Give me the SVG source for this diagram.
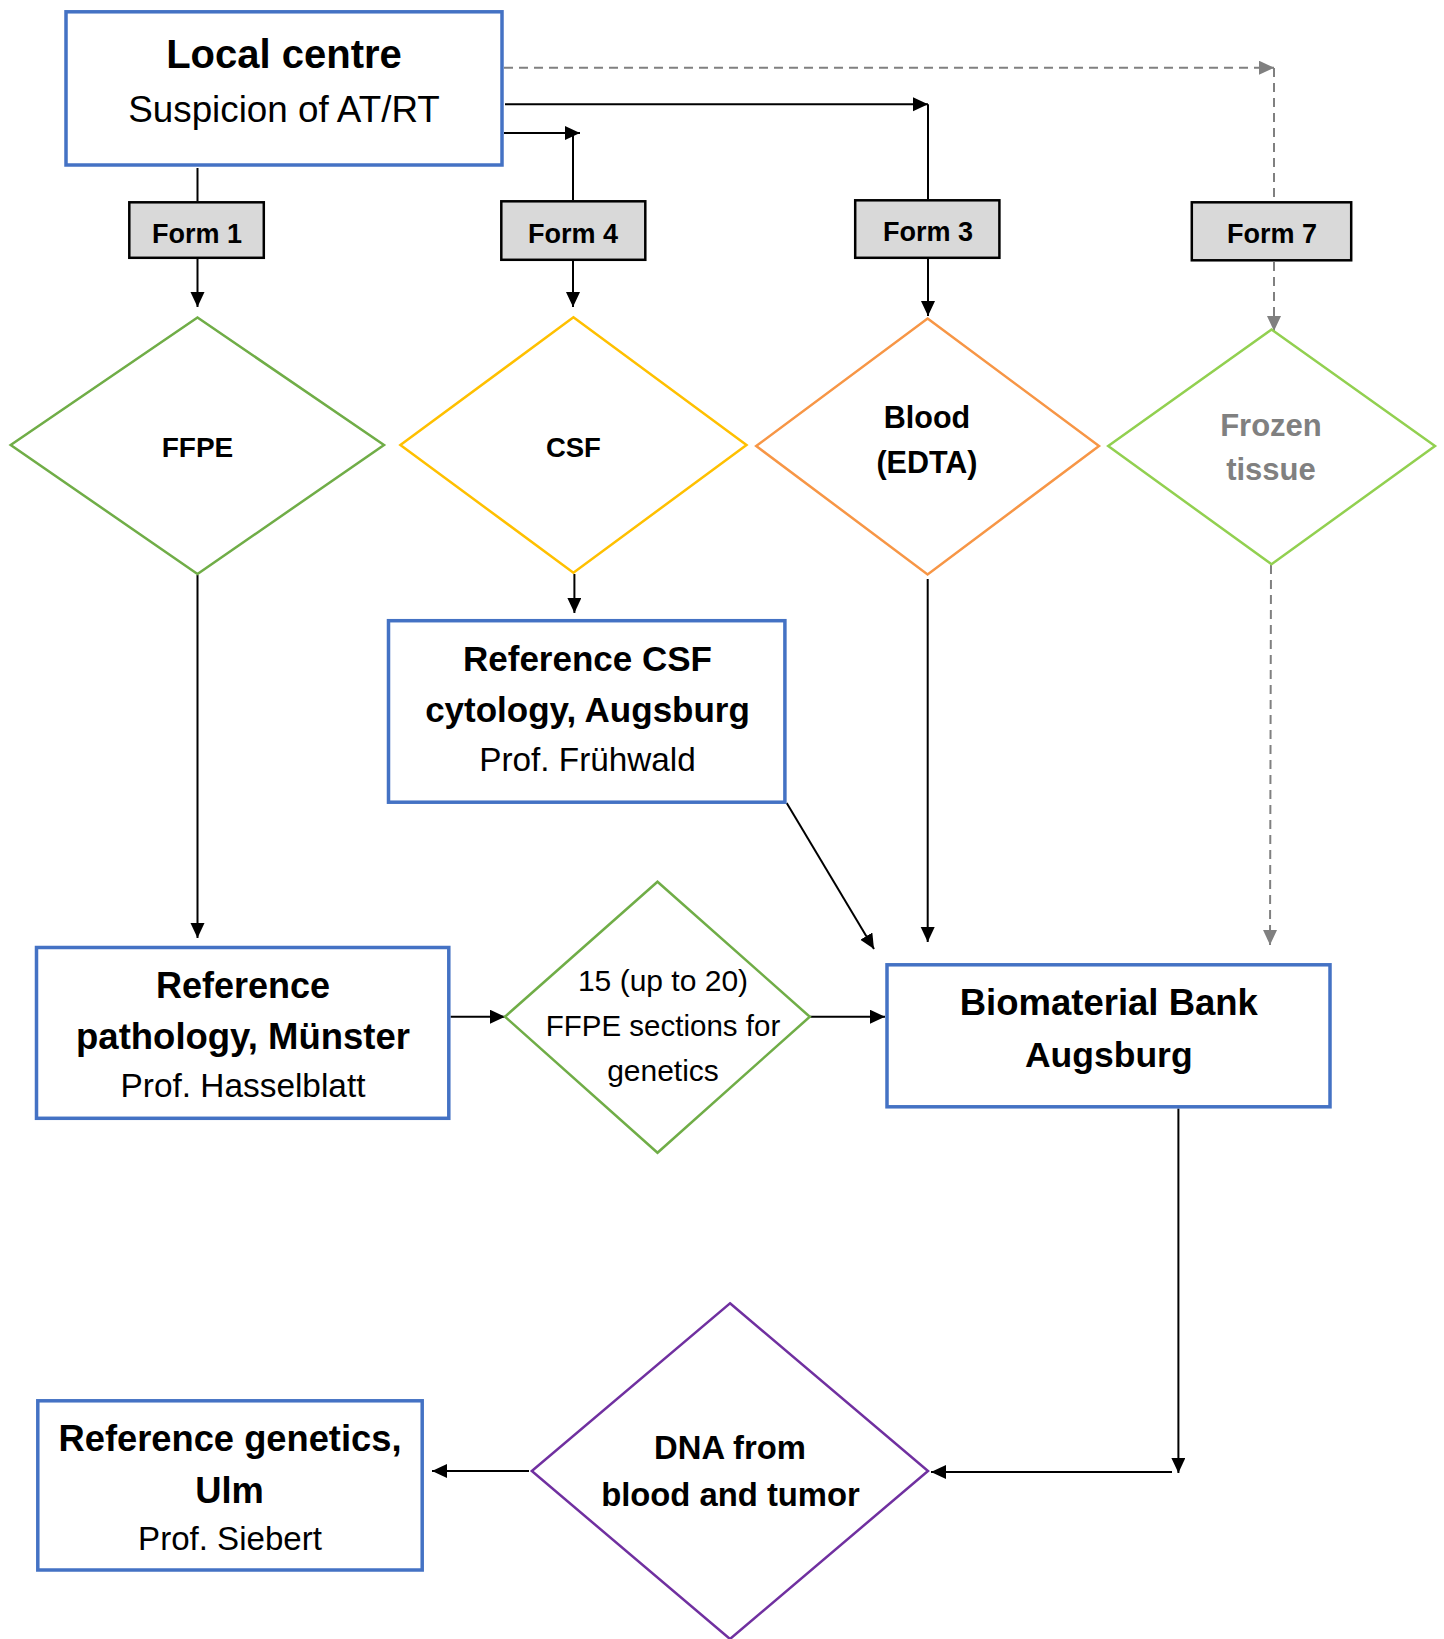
<svg xmlns="http://www.w3.org/2000/svg" width="1444" height="1639" viewBox="0 0 1444 1639">
<style>
  text { font-family: "Liberation Sans", Arial, sans-serif; fill: #000; text-anchor: middle; }
  .b { font-weight: bold; }
  .box { fill: #fff; stroke: #4472C4; stroke-width: 3.5; }
  .form { fill: #D9D9D9; stroke: #000; stroke-width: 2.5; }
  .dia { fill: #fff; stroke-width: 2.5; }
  .con { fill: none; stroke: #000; stroke-width: 2; }
  .dash { fill: none; stroke: #808080; stroke-width: 2; stroke-dasharray: 9 6; }
</style>
<defs>
  <marker id="ah" markerUnits="userSpaceOnUse" markerWidth="16" markerHeight="16" refX="15" refY="7" orient="auto">
    <path d="M0,0 L15,7 L0,14 z" fill="#000"/>
  </marker>
  <marker id="ahg" markerUnits="userSpaceOnUse" markerWidth="16" markerHeight="16" refX="15" refY="7" orient="auto">
    <path d="M0,0 L15,7 L0,14 z" fill="#808080"/>
  </marker>
</defs>
<rect width="1444" height="1639" fill="#fff"/>

<g id="connectors">
  <line class="dash" x1="504" y1="67.7" x2="1274" y2="67.7" marker-end="url(#ahg)"/>
  <line class="dash" x1="1274" y1="68" x2="1274" y2="201"/>
  <line class="con" x1="505" y1="104.3" x2="928" y2="104.3" marker-end="url(#ah)"/>
  <line class="con" x1="928" y1="104.3" x2="928" y2="199"/>
  <line class="con" x1="504" y1="133" x2="580" y2="133" marker-end="url(#ah)"/>
  <line class="con" x1="573" y1="133" x2="573" y2="200"/>
  <line class="con" x1="197.5" y1="168" x2="197.5" y2="201"/>
  <line class="con" x1="197.5" y1="259" x2="197.5" y2="307" marker-end="url(#ah)"/>
  <line class="con" x1="573" y1="261" x2="573" y2="307" marker-end="url(#ah)"/>
  <line class="con" x1="928" y1="259" x2="928" y2="316" marker-end="url(#ah)"/>
  <line class="dash" x1="1274" y1="262" x2="1274" y2="331" marker-end="url(#ahg)"/>
  <line class="con" x1="197.5" y1="575" x2="197.5" y2="938" marker-end="url(#ah)"/>
  <line class="con" x1="574.4" y1="574" x2="574.4" y2="613" marker-end="url(#ah)"/>
  <line class="con" x1="786.7" y1="803" x2="874" y2="949" marker-end="url(#ah)"/>
  <line class="con" x1="927.7" y1="579" x2="927.7" y2="942" marker-end="url(#ah)"/>
  <line class="dash" x1="1271" y1="565" x2="1270" y2="945" marker-end="url(#ahg)"/>
  <line class="con" x1="450.6" y1="1016.7" x2="505" y2="1016.7" marker-end="url(#ah)"/>
  <line class="con" x1="810" y1="1016.7" x2="885" y2="1016.7" marker-end="url(#ah)"/>
  <line class="con" x1="1178.4" y1="1108.6" x2="1178.4" y2="1473" marker-end="url(#ah)"/>
  <line class="con" x1="1172" y1="1472" x2="931" y2="1472" marker-end="url(#ah)"/>
  <line class="con" x1="529" y1="1471" x2="432" y2="1471" marker-end="url(#ah)"/>
</g>

<g id="local-centre">
  <rect class="box" x="66" y="11.8" width="436" height="153.2"/>
  <text class="b" x="284" y="68.3" font-size="40">Local centre</text>
  <text x="284" y="121.7" font-size="36.8">Suspicion of AT/RT</text>
</g>

<g id="form1">
  <rect class="form" x="129.3" y="202.3" width="134.5" height="55.5"/>
  <text class="b" x="197" y="242.7" font-size="27">Form 1</text>
</g>
<g id="form4">
  <rect class="form" x="501.3" y="201.3" width="144" height="58.5"/>
  <text class="b" x="573" y="242.7" font-size="27">Form 4</text>
</g>
<g id="form3">
  <rect class="form" x="855.2" y="200.3" width="144.2" height="57.5"/>
  <text class="b" x="928" y="240.7" font-size="27">Form 3</text>
</g>
<g id="form7">
  <rect class="form" x="1191.8" y="202.3" width="159.4" height="58"/>
  <text class="b" x="1272" y="242.7" font-size="27">Form 7</text>
</g>

<g id="ffpe">
  <polygon class="dia" stroke="#70AD47" points="197.5,317.5 384,445 197.5,574 10.7,445"/>
  <text class="b" x="197.5" y="456.7" font-size="28">FFPE</text>
</g>
<g id="csf">
  <polygon class="dia" stroke="#FFC000" points="573.4,317.3 746.5,445 573.4,572.7 400.4,445"/>
  <text class="b" x="573.4" y="456.7" font-size="27.5">CSF</text>
</g>
<g id="blood">
  <polygon class="dia" stroke="#F79646" points="927.6,318.5 1099,446 927.6,574.4 756.2,446"/>
  <text class="b" x="927" y="428.4" font-size="30.5">Blood</text>
  <text class="b" x="927" y="472.5" font-size="30.5">(EDTA)</text>
</g>
<g id="frozen">
  <polygon class="dia" stroke="#92D050" points="1271.5,329.5 1435,446 1271.5,564.3 1108.2,446"/>
  <text class="b" x="1271" y="435.5" font-size="31" style="fill:#808080">Frozen</text>
  <text class="b" x="1271" y="480" font-size="31" style="fill:#808080">tissue</text>
</g>

<g id="ref-csf">
  <rect class="box" x="388.5" y="620.7" width="396.4" height="181.5"/>
  <text class="b" x="587.5" y="671" font-size="35">Reference CSF</text>
  <text class="b" x="587.5" y="721.7" font-size="35">cytology, Augsburg</text>
  <text x="587.5" y="771" font-size="33.3">Prof. Frühwald</text>
</g>

<g id="ref-pathology">
  <rect class="box" x="36.5" y="947.5" width="412.3" height="170.8"/>
  <text class="b" x="243" y="997.7" font-size="36">Reference</text>
  <text class="b" x="243" y="1049" font-size="36.5">pathology, Münster</text>
  <text x="243" y="1097.3" font-size="33.4">Prof. Hasselblatt</text>
</g>

<g id="ffpe-sections">
  <polygon class="dia" stroke="#70AD47" points="657.5,881.7 809.8,1016.7 657.5,1152.7 505,1016.7"/>
  <text x="663" y="991" font-size="30">15 (up to 20)</text>
  <text x="663" y="1036" font-size="29.5">FFPE sections for</text>
  <text x="663" y="1080.7" font-size="30">genetics</text>
</g>

<g id="biomaterial-bank">
  <rect class="box" x="887" y="964.8" width="443" height="142"/>
  <text class="b" x="1108.8" y="1014.8" font-size="36.5">Biomaterial Bank</text>
  <text class="b" x="1108.8" y="1067.2" font-size="35.5">Augsburg</text>
</g>

<g id="dna">
  <polygon class="dia" stroke="#7030A0" points="730,1303.3 928,1471 730,1639 531.8,1471"/>
  <text class="b" x="730" y="1459" font-size="32.8">DNA from</text>
  <text class="b" x="730.5" y="1505.7" font-size="32.8">blood and tumor</text>
</g>

<g id="ref-genetics">
  <rect class="box" x="37.8" y="1400.8" width="384.4" height="169.2"/>
  <text class="b" x="230" y="1451" font-size="36.3">Reference genetics,</text>
  <text class="b" x="229.5" y="1502.7" font-size="36.3">Ulm</text>
  <text x="230" y="1550" font-size="33.1">Prof. Siebert</text>
</g>
</svg>
